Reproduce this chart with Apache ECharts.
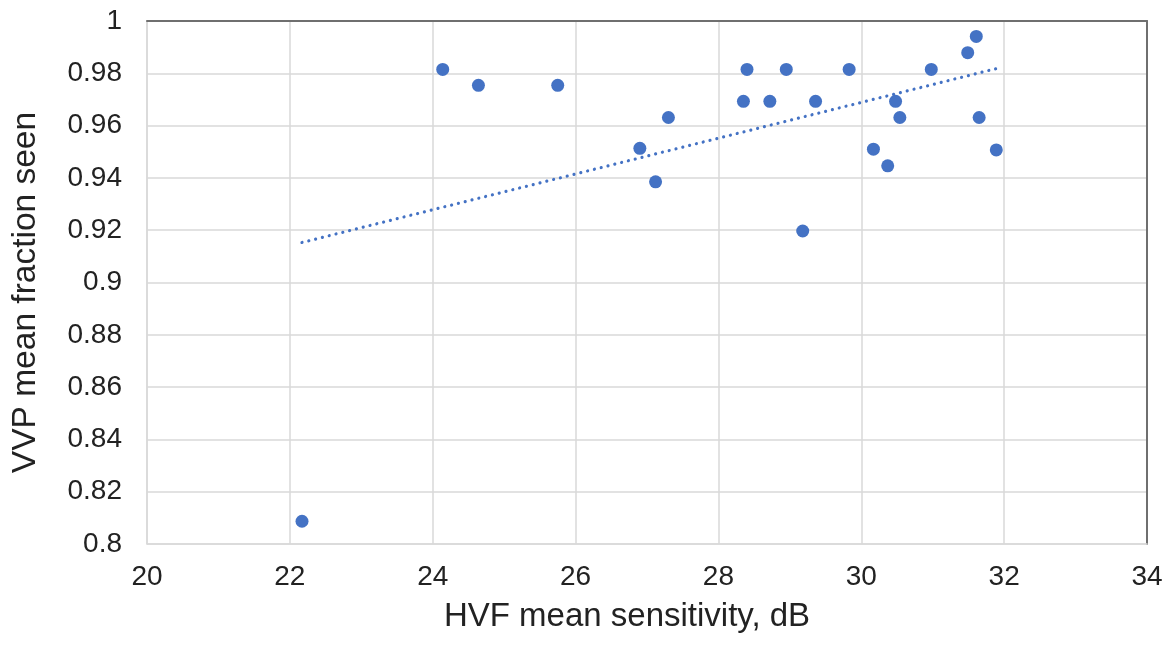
<!DOCTYPE html>
<html><head><meta charset="utf-8">
<script src="https://cdn.jsdelivr.net/npm/echarts@6/dist/echarts.min.js"></script>
<style>html,body{margin:0;padding:0;background:#fff}#c{width:1176px;height:646px}</style>
</head><body><div id="c"></div>
<script>
const hvfSensitivity = [22.17, 24.14, 24.64, 25.75, 26.90, 27.12, 27.30, 28.35, 28.40, 28.72, 28.95, 29.18, 29.36, 29.83, 30.17, 30.37, 30.48, 30.54, 30.98, 31.49, 31.61, 31.65, 31.89];
const vvpFraction = [0.8087, 0.9815, 0.9754, 0.9754, 0.9513, 0.9385, 0.9631, 0.9693, 0.9815, 0.9693, 0.9815, 0.9197, 0.9693, 0.9815, 0.9510, 0.9446, 0.9693, 0.9631, 0.9815, 0.9879, 0.9941, 0.9631, 0.9507];
const trendX = [22.17, 31.89];
const trendY = [0.9153, 0.9818];
const xRange = [20, 34, 2];
const yRange = [0.8, 1, 0.02];
const xTitle = 'HVF mean sensitivity, dB';
const yTitle = 'VVP mean fraction seen';

const FONT = "'Liberation Sans', Arial, sans-serif";
const chart = echarts.init(document.getElementById('c'), null, {renderer: 'canvas'});
const light = '#d9d9d9';
const dark = '#6f6f6f';
chart.setOption({
  animation: false,
  backgroundColor: '#fff',
  grid: {left: 147, right: 29, top: 21, bottom: 102},
  xAxis: [{
    type: 'value', min: xRange[0], max: xRange[1], interval: xRange[2],
    axisLine: {show: true, lineStyle: {color: light, width: 1.5}},
    axisTick: {show: false},
    splitLine: {show: true, lineStyle: {color: light, width: 1.5}},
    axisLabel: {fontFamily: FONT, fontSize: 28, color: '#222', margin: 19},
    name: xTitle, nameLocation: 'middle', nameGap: 56,
    nameTextStyle: {fontFamily: FONT, fontSize: 33, color: '#222', padding: [0, 40, 0, 0]}
  }, {
    type: 'value', position: 'top', min: xRange[0], max: xRange[1], interval: xRange[2],
    axisLine: {show: true, lineStyle: {color: dark, width: 2}},
    axisTick: {show: false}, axisLabel: {show: false}, splitLine: {show: false}
  }],
  yAxis: [{
    type: 'value', min: yRange[0], max: yRange[1], interval: yRange[2],
    axisLine: {show: true, lineStyle: {color: light, width: 1.5}},
    axisTick: {show: false},
    splitLine: {show: true, lineStyle: {color: light, width: 1.5}},
    axisLabel: {fontFamily: FONT, fontSize: 28, color: '#222', margin: 25},
    name: yTitle, nameLocation: 'middle', nameGap: 104, nameRotate: 90,
    nameTextStyle: {fontFamily: FONT, fontSize: 33.5, color: '#222', padding: [0, 20, 0, 0]}
  }, {
    type: 'value', position: 'right', min: yRange[0], max: yRange[1], interval: yRange[2],
    axisLine: {show: true, lineStyle: {color: dark, width: 2}},
    axisTick: {show: false}, axisLabel: {show: false}, splitLine: {show: false}
  }],
  series: [{
    type: 'scatter',
    data: hvfSensitivity.map((x, i) => [x, vvpFraction[i]]),
    symbol: 'circle', symbolSize: 13,
    itemStyle: {color: '#4472C4', opacity: 1},
    z: 3
  }, {
    type: 'line',
    data: trendX.map((x, i) => [x, trendY[i]]),
    symbol: 'none',
    lineStyle: {color: '#4472C4', width: 3.2, type: [0.01, 7], cap: 'round'},
    z: 4
  }]
});
</script></body></html>
